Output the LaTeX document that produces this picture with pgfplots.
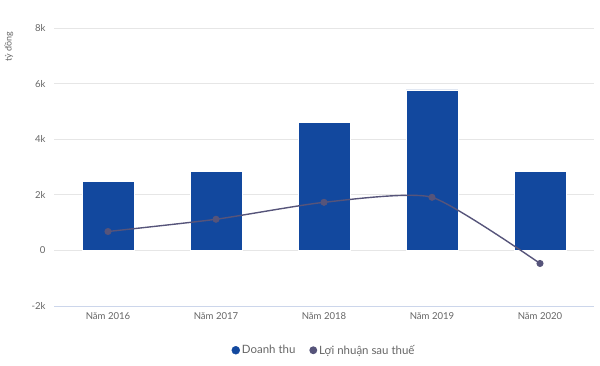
\documentclass[border=0pt]{standalone}
\usepackage{pgfplots}
\pgfplotsset{compat=1.18}
\usepackage{fontspec}
\setmainfont{Lato}
\definecolor{barblue}{HTML}{12489E}
\definecolor{linec}{HTML}{56547A}
\definecolor{txt}{HTML}{666666}
\definecolor{gridc}{HTML}{E6E6E6}
\definecolor{axisc}{HTML}{CCD6EB}
\begin{document}
\begin{tikzpicture}[x=1bp,y=1bp]
\path[use as bounding box] (0,0) rectangle (600,365);
\begin{axis}[
  at={(54bp,59bp)}, anchor=south west,
  scale only axis, width=540bp, height=278bp,
  xmin=-0.5, xmax=4.5, ymin=-2000, ymax=8000,
  xtick=data, xticklabels={Năm 2016,Năm 2017,Năm 2018,Năm 2019,Năm 2020},
  ytick={-2000,0,2000,4000,6000,8000},
  yticklabels={-2k,0,2k,4k,6k,8k},
  axis line style={draw=none},
  x axis line style={draw=none},
  tick style={draw=none},
  ymajorgrids, grid style={gridc, line width=0.8pt},
  ticklabel style={font=\fontsize{9.6}{11}\selectfont, text=txt},
  xticklabel style={yshift=-3bp},
  yticklabel style={xshift=-5bp},
  /pgf/number format/assume math mode=true,
  legend columns=2,
  legend style={at={(0.5,-0.125)}, anchor=north, draw=none, fill=none,
    font=\fontsize{11.5}{13}\selectfont, text=txt,
    /tikz/every even column/.append style={column sep=12bp}},
  clip=false,
]
\draw[axisc, line width=0.8pt] (axis cs:-0.5,-2000) -- (axis cs:4.5,-2000);
\addplot[ybar, bar width=0.48, fill=barblue, draw=white, line width=0.4pt,
  legend image code/.code={\fill[barblue] (0.5em,0) circle (4bp);}]
  coordinates {(0,2490) (1,2850) (2,4610) (3,5770) (4,2850)};
\addlegendentry{Doanh thu}
\addplot[smooth, tension=0.35, color=linec, line width=1.4pt, mark=*, mark size=2.8bp,
  mark options={fill=linec, draw=linec},
  legend image code/.code={\fill[linec] (0.5em,0) circle (3.2bp);}]
  coordinates {(0,680) (1,1120) (2,1730) (3,1910) (4,-470)};
\addlegendentry{Lợi nhuận sau thuế}
\end{axis}
\node[rotate=90, text=txt, font=\fontsize{9}{11}\selectfont] at (9,318) {tỷ đồng};
\end{tikzpicture}
\end{document}
